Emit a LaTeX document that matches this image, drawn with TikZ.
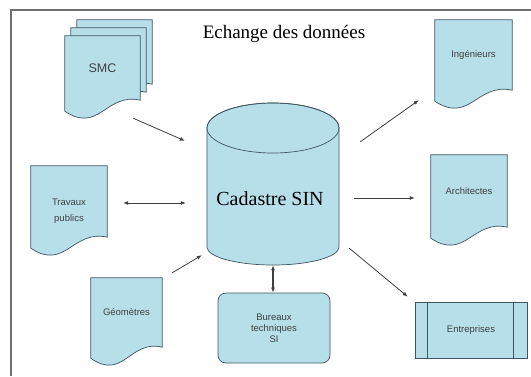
\documentclass[tikz,border=0pt]{standalone}
\usepackage{fontspec}
\setmainfont{Liberation Serif}
\setsansfont{Liberation Sans}
\usetikzlibrary{arrows.meta,calc,backgrounds}
\definecolor{sinBlue}{HTML}{B6DFEA}
\definecolor{sinEdge}{HTML}{3E5563}
\definecolor{sinFrame}{HTML}{6E6E6E}
\tikzset{
  >={Latex[length=5pt,width=4pt]},
  docpage/.style={draw=sinEdge, fill=sinBlue, line width=0.7pt},
  pageline/.style={draw=sinEdge, line width=0.7pt},
  docbox/.style={inner sep=0pt, align=center, text=black!75,
                 font=\sffamily\fontsize{9.5}{11}\selectfont},
  flow/.style={->, line width=0.8pt, draw=black!75},
  twoway/.style={<->, line width=0.8pt, draw=black!75},
  titleline/.style={font=\fontsize{19}{22}\selectfont, anchor=base},
}
% wavy-bottom page drawn behind a named node
\newcommand\docoutline[1]{%
  \begin{scope}[on background layer]
    \draw[docpage] (#1.north west) -- (#1.north east) -- (#1.south east)
      .. controls ($(#1.south west)!0.55!(#1.south east)+(0,-8)$)
      and ($(#1.south west)!0.45!(#1.south east)+(0,34)$) .. ($(#1.south west)+(0,11)$)
      -- cycle;
  \end{scope}}

\begin{document}
\begin{tikzpicture}[x=1pt, y=-1pt]
  \useasboundingbox (0,0) rectangle (531,376);

  % ── Frame ──
  \draw[sinFrame, line width=1.6pt] (11,376) -- (11,10) -- (531,10);

  % ── Title ──
  \node[titleline] (title) at (284,38) {Echange des données};

  % ── Central database ──
  \node[inner sep=0pt, minimum width=132pt, minimum height=162pt] (cad) at (273,184) {};
  \draw[docpage] (207,128) -- (207,247)
    arc[start angle=180, end angle=0, x radius=66, y radius=18]
    -- (339,128) arc[start angle=0, end angle=-180, x radius=66, y radius=25] -- cycle;
  \draw[pageline] (273,128) ellipse[x radius=66, y radius=25];
  \node[font=\fontsize{20}{24}\selectfont, anchor=base] (cadtxt) at (270,205) {Cadastre SIN};

  % ── SMC: stack of pages ──
  \foreach \k in {2,1} {
    \node[docbox, minimum width=75pt, minimum height=64pt] (smc\k) at ({102.5+6*\k},{68-8*\k}) {};
    \docoutline{smc\k}
  }
  \node[docbox, minimum width=75pt, minimum height=64pt,
        font=\sffamily\fontsize{12.5}{14}\selectfont] (smc) at (102.5,68) {SMC};
  \docoutline{smc}

  % ── Left pages ──
  \node[docbox, minimum width=76pt, minimum height=71pt,
        label={[docbox, font=\sffamily\fontsize{9.5}{16}\selectfont, yshift=-10pt]center:Travaux\\publics}]
        (trav) at (69,201.5) {};
  \docoutline{trav}
  \node[docbox, minimum width=71pt, minimum height=69pt] (geo) at (126.5,312.5) {Géomètres};
  \docoutline{geo}

  % ── Right pages ──
  \node[docbox, minimum width=77pt, minimum height=70pt] (ing) at (473.5,55) {Ingénieurs};
  \docoutline{ing}
  \node[docbox, minimum width=76pt, minimum height=72pt] (arch) at (469,191) {Architectes};
  \docoutline{arch}

  % ── Process boxes ──
  \node[docbox, docpage, minimum width=112pt, minimum height=56pt] (entr) at (471,330) {Entreprises};
  \draw[pageline] ([xshift=13pt]entr.north west) -- ([xshift=13pt]entr.south west);
  \draw[pageline] ([xshift=-14pt]entr.north east) -- ([xshift=-14pt]entr.south east);
  \node[docbox, docpage, rounded corners=8pt, minimum width=112pt, minimum height=70pt]
    (bur) at (274,328) {Bureaux\\techniques\\SI};

  % ── Exchanges ──
  \draw[flow] ([shift={(-7,18)}]smc.south east) -- ([shift={(-22,38)}]cad.north west);
  \draw[flow] ([shift={(21,39)}]cad.north east) -- ([shift={(-16,10)}]ing.south west);
  \draw[twoway] ([shift={(16,1.5)}]trav.east) -- ([shift={(-21,19)}]cad.west);
  \draw[flow] ([shift={(10,-5)}]geo.north east) -- ([shift={(-5,-10)}]cad.south west);
  \draw[flow] ([shift={(15,14)}]cad.east) -- ([shift={(-16,7)}]arch.west);
  \draw[flow] ([shift={(10,-17)}]cad.south east) -- ([shift={(-7,-5)}]entr.north west);
  \draw[twoway, line width=1.3pt] (cad.south) -- (cad.south |- bur.north);
\end{tikzpicture}
\end{document}
